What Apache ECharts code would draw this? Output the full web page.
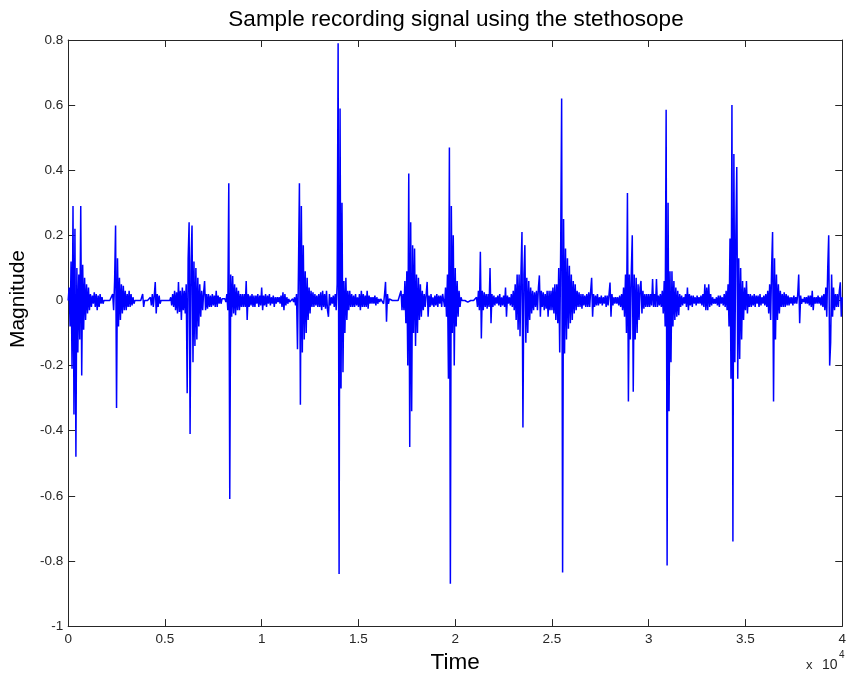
<!DOCTYPE html>
<html><head><meta charset="utf-8">
<script src="https://cdn.jsdelivr.net/npm/echarts@6.0.0/dist/echarts.min.js"></script>
<style>html,body{margin:0;padding:0;background:#fff}#c{width:849px;height:679px}</style>
</head><body><div id="c"></div>
<script>
const SAMPLE_STEP = 50;
// samples 0 .. 4950
const seg0 = [
 0, .04, -.08, .12, -.21, .29, -.35, .22, -.48, .10,
 -.16, .08, -.12, .29, -.23, .11, -.09, .07, -.06, .05,
 -.04, .04, -.03, .02, -.02, .015, -.01, .025, -.02, .02,
 -.03, .015, -.02, .02, -.01, .01, -.01, 0, 0, 0,
 0, 0, 0, 0, 0, 0, .02, -.03, .06, .23,
 -.33, .13, -.08, .07, -.06, .05, -.04, .045, -.03, .03,
 -.03, .02, -.02, .03, -.02, .02, -.015, .01, -.01, 0,
 0, 0, 0, 0, 0, 0, 0, .02, -.02, 0,
 0, 0, 0, 0, 0, .01, -.015, .02, -.02, .015,
 .057, -.04, .02, -.02, .015, -.01, 0, 0, 0, 0
];
// samples 5000 .. 9950
const seg1 = [
 0, 0, 0, 0, 0, 0, .01, -.015, .02, -.02,
 .03, -.03, .025, -.04, .057, -.035, .03, -.06, .04, -.03,
 .03, -.04, .05, -.285, .13, .24, -.41, .12, .23, -.19,
 .12, -.14, .10, -.12, .07, -.08, .05, -.05, .03, -.03,
 .025, .06, -.03, .02, -.025, .02, -.02, .015, -.02, .02,
 -.015, .015, -.02, .03, -.02, .015, -.01, .01, -.01, .005,
 0, 0, .005, -.005, .02, -.03, .36, -.61, .08, -.05,
 .075, -.04, .05, -.045, .04, -.03, .03, -.03, .02, -.02,
 .02, -.02, .02, -.02, .06, -.06, .02, -.02, .015, -.015,
 .02, -.02, .015, -.02, .015, -.01, .02, -.02, .015, -.015
];
// samples 10000 .. 14950
const seg2 = [
 .04, -.03, .015, -.015, .02, -.02, .015, -.01, .02, -.015,
 .01, -.01, .015, -.02, .01, -.01, .01, -.005, .01, -.01,
 .015, -.02, .025, -.03, .02, -.015, .01, -.01, .005, -.005,
 0, 0, .005, -.005, .01, -.015, .02, -.15, .09, .36,
 -.32, .29, -.16, .17, -.12, .09, -.10, .07, -.06, .04,
 -.04, .03, -.02, .025, -.02, .02, -.015, .015, -.02, .02,
 -.02, .025, -.03, .03, -.02, .02, -.025, .03, -.03, -.05,
 .02, -.015, .01, -.01, .015, -.02, .02, -.03, .05, .79,
 -.84, .59, -.27, .30, -.22, .06, -.1, .07, -.06, .03,
 -.03, .03, -.02, .02, -.02, .015, -.02, .02, -.015, .01
];
// samples 15000 .. 19950
const seg3 = [
 -.02, .02, -.03, .03, -.02, .02, -.02, .015, -.02, .03,
 -.025, .015, -.01, .01, -.01, .01, -.01, .015, -.015, .01,
 -.01, .005, -.005, .005, 0, .01, -.01, .02, .057, -.065,
 .02, -.01, .005, 0, 0, 0, 0, 0, 0, 0,
 0, 0, .005, -.005, .03, -.03, .02, -.03, .06, -.07,
 .09, -.2, .39, -.45, .24, -.34, .17, -.1, .16, -.14,
 .08, -.1, .07, -.06, .05, -.05, .03, -.03, .02, -.02,
 .02, .057, -.05, .015, -.02, .02, -.015, .01, -.02, .015,
 -.015, .02, -.02, .015, -.01, .015, -.02, .02, .02, -.02,
 .04, -.05, .08, -.24, .47, -.87, .29, -.1, .2, -.2
];
// samples 20000 .. 24950
const seg4 = [
 .1, -.08, .06, -.05, .03, -.02, .01, 0, .005, -.005,
 0, 0, .005, -.005, 0, 0, 0, .005, -.005, 0,
 0, .005, .01, -.02, .03, -.03, .15, -.117, .03, -.03,
 .025, -.02, .02, -.025, .02, -.02, .1, -.07, .02, -.02,
 .015, -.015, .01, -.01, .015, -.015, .02, -.02, .01, -.015,
 .015, -.02, .04, -.05, .015, -.01, .01, -.015, .02, -.02,
 .03, -.03, .05, -.06, .08, -.09, .08, -.11, .09, .21,
 -.39, .08, .17, -.13, .07, -.1, .06, -.06, .04, -.04,
 .03, -.03, .025, -.02, .03, -.03, .04, .077, -.05, .03,
 -.02, .025, -.03, .02, -.025, .03, -.05, .03, -.03, .03
];
// samples 25000 .. 29950
const seg5 = [
 -.03, .04, -.04, .05, -.06, .05, -.07, .1, -.16, .16,
 .62, -.835, .25, -.163, .16, -.12, .13, -.087, .107, -.07,
 .08, -.06, .06, -.04, .05, -.03, .03, -.02, .025, -.02,
 .02, -.025, .02, -.015, .015, -.02, .02, -.02, .025, -.02,
 .03, .07, -.05, .02, -.02, .015, -.015, .02, -.015, .01,
 -.01, .015, -.015, .01, -.01, .015, -.02, .015, -.015, .02,
 .055, -.05, .02, -.015, .01, -.01, .01, -.01, .01, -.015,
 .015, -.02, .02, -.03, .04, -.05, .08, -.1, .33, -.31,
 .08, -.12, .09, .2, -.28, .08, -.12, .07, -.1, .05,
 -.06, .04, .06, -.04, .03, -.025, .02, -.02, .02, -.02
];
// samples 30000 .. 34950
const seg6 = [
 .02, -.02, .02, -.015, .066, -.02, .02, -.02, .066, -.02,
 .015, -.015, .02, -.02, .03, -.04, .06, -.08, .586, -.814,
 .30, -.34, .09, -.19, .09, -.08, .06, -.06, .04, -.05,
 .03, -.045, .02, -.02, .015, -.015, .01, -.01, .02, -.02,
 .04, -.03, .02, -.015, .015, -.02, .015, -.01, .01, -.015,
 .015, -.01, .01, -.01, .015, -.015, .02, -.02, .05, -.03,
 .04, -.03, .05, -.02, .02, -.015, .01, -.01, .005, -.01,
 .01, -.015, .015, -.02, .015, -.01, .01, -.015, .02, -.02,
 .03, -.03, .05, -.08, .19, -.24, .60, -.74, .45, -.19,
 .2, .41, -.24, .13, -.18, .1, -.12, .06, -.06, .04
];
// samples 35000 .. 40000
const seg7 = [
 -.03, .06, -.04, .02, -.02, .02, -.02, .015, -.015, .02,
 -.02, .015, -.01, .015, -.02, .02, -.015, .01, -.01, .015,
 -.015, .02, -.02, .03, -.04, .05, -.06, .1, .21, -.31,
 .13, -.12, .08, -.06, .05, -.04, .03, -.02, .02, -.02,
 .025, -.02, .02, -.015, .015, -.015, .01, -.01, .01, -.015,
 .015, -.01, .01, -.01, .02, .08, -.07, .015, -.01, .005,
 -.005, .01, -.01, .01, -.01, .015, -.015, .015, -.02, .03,
 -.03, .01, -.01, .01, -.01, .015, -.01, .01, -.015, .015,
 -.02, .02, -.03, .04, -.05, .1, .2, -.2, -.13, .08,
 -.05, .04, -.03, .02, -.02, .02, -.02, .03, .056, -.05,
 .01
];

const xTickLabels = ['0', '0.5', '1', '1.5', '2', '2.5', '3', '3.5', '4'];
const yTickLabels = ['-1', '-0.8', '-0.6', '-0.4', '-0.2', '0', '0.2', '0.4', '0.6', '0.8'];

const magnitude = [].concat(seg0, seg1, seg2, seg3, seg4, seg5, seg6, seg7);
const signal = magnitude.map((v, i) => [i * SAMPLE_STEP, v]);

const font = '"Liberation Sans", Arial, Helvetica, sans-serif';
const axisColor = '#262626';
const labelColor = '#262626';

function xAxisCfg(pos, withLabels) {
  return {
    type: 'value', position: pos, min: 0, max: 40000, interval: 5000,
    axisLine: { show: true, onZero: false, lineStyle: { color: axisColor, width: 1 } },
    axisTick: { show: true, inside: true, length: 7, lineStyle: { color: axisColor } },
    axisLabel: withLabels ? {
      show: true, margin: 6, fontFamily: font, fontSize: 13.5, color: labelColor,
      formatter: v => xTickLabels[Math.round(v / 5000)]
    } : { show: false },
    splitLine: { show: false }
  };
}
function yAxisCfg(pos, withLabels) {
  return {
    type: 'value', position: pos, min: -1, max: 0.8, interval: 0.2,
    axisLine: { show: true, onZero: false, lineStyle: { color: axisColor, width: 1 } },
    axisTick: { show: true, inside: true, length: 7, lineStyle: { color: axisColor } },
    axisLabel: withLabels ? {
      show: true, margin: 5, fontFamily: font, fontSize: 13.5, color: labelColor,
      formatter: v => yTickLabels[Math.round((v + 1) / 0.2)]
    } : { show: false },
    splitLine: { show: false }
  };
}

const xBottom = Object.assign(xAxisCfg('bottom', true), {
  name: 'Time', nameLocation: 'middle', nameGap: 19,
  nameTextStyle: { fontFamily: font, fontSize: 22.5, color: '#000' }
});
const yLeft = Object.assign(yAxisCfg('left', true), {
  name: 'Magnitude', nameLocation: 'middle', nameGap: 19, nameRotate: 90,
  nameTextStyle: { fontFamily: font, fontSize: 21, color: '#000', padding: [0, 0, 0, 68] }
});

const chart = echarts.init(document.getElementById('c'), null, { renderer: 'canvas' });
chart.setOption({
  animation: false,
  backgroundColor: '#fff',
  title: {
    text: 'Sample recording signal using the stethosope',
    left: 451, top: 3, textAlign: 'center',
    textStyle: { fontFamily: font, fontSize: 22.5, fontWeight: 'normal', color: '#000' }
  },
  grid: { left: 67, right: 3, top: 40, bottom: 50, containLabel: false },
  xAxis: [xBottom, xAxisCfg('top', false)],
  yAxis: [yLeft, yAxisCfg('right', false)],
  series: [{
    type: 'line', xAxisIndex: 0, yAxisIndex: 0, data: signal,
    showSymbol: false, symbol: 'none', sampling: null, silent: true,
    lineStyle: { color: '#0000ff', width: 1.5 }
  }],
  graphic: [
    { type: 'text', left: 806, top: 659, style: { text: 'x', font: '13px ' + font, fill: '#262626' } },
    { type: 'text', left: 822, top: 658, style: { text: '10', font: '14px ' + font, fill: '#262626' } },
    { type: 'text', left: 839, top: 650, style: { text: '4', font: '10px ' + font, fill: '#262626' } }
  ]
});
</script></body></html>
